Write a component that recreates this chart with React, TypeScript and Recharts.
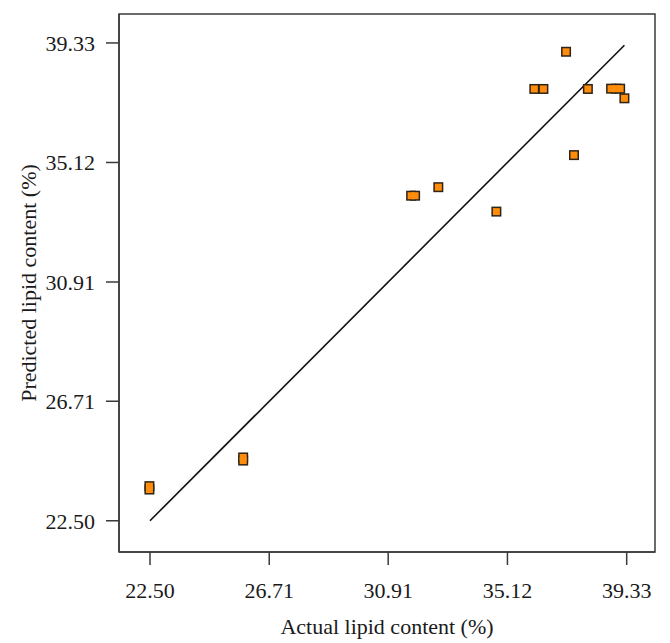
import { ReferenceArea, Scatter, ScatterChart, XAxis, YAxis } from "recharts";

const actual = [
  22.48, 22.48, 25.79, 25.79, 31.72, 31.86, 32.68, 34.73, 36.07, 36.39, 37.19, 37.47, 37.96,
  38.78, 38.95, 39.1, 39.25
];
const predicted = [
  23.72, 23.6, 24.73, 24.62, 33.95, 33.95, 34.25, 33.39, 37.71, 37.71, 39.02, 35.38, 37.71,
  37.72, 37.72, 37.72, 37.38
];
const fitX = [22.5, 39.25];
const ticks = [22.5, 26.71, 30.91, 35.12, 39.33];
const xDomain = [21.406, 40.33];
const yDomain = [21.4, 40.35];

const points = actual.map((x, i) => ({ x, y: predicted[i] }));
const fitLine = fitX.map((v) => ({ x: v, y: v }));

const font = "'Liberation Serif', 'DejaVu Serif', serif";
const axisColor = "#3a3a3a";

// outline pass first, fill pass second, so stacked points merge like the original
function SquareEdge(props: any) {
  const { cx, cy } = props;
  if (cx == null || cy == null) return null;
  return <rect x={cx - 5} y={cy - 5} width={10} height={10} fill="#2e2418" />;
}

function SquareFill(props: any) {
  const { cx, cy } = props;
  if (cx == null || cy == null) return null;
  return <rect x={cx - 3.5} y={cy - 3.5} width={7} height={7} fill="#ff8c0a" />;
}

export default function App() {
  return (
    <div style={{ position: "absolute", left: 0, top: 0, width: 670, height: 643, background: "#fff" }}>
      <ScatterChart width={670} height={643} margin={{ top: 14, right: 15, bottom: 0, left: 0 }}>
        <XAxis
          dataKey="x"
          type="number"
          domain={xDomain}
          ticks={ticks}
          tickFormatter={(v: number) => v.toFixed(2)}
          allowDataOverflow
          height={91}
          tickSize={13}
          tickMargin={17}
          stroke={axisColor}
          strokeWidth={1.5}
          tick={{ fontFamily: font, fontSize: 22, fill: "#1a1a1a" }}
          label={{
            value: "Actual lipid content (%)",
            position: "insideBottom",
            offset: 9,
            style: { fontFamily: font, fontSize: 22, fill: "#1a1a1a" }
          }}
        />
        <YAxis
          dataKey="y"
          type="number"
          domain={yDomain}
          ticks={ticks}
          tickFormatter={(v: number) => v.toFixed(2)}
          allowDataOverflow
          width={119}
          tickSize={13}
          tickMargin={11}
          stroke={axisColor}
          strokeWidth={1.5}
          tick={{ fontFamily: font, fontSize: 22, fill: "#1a1a1a" }}
          label={{
            value: "Predicted lipid content (%)",
            angle: -90,
            position: "insideLeft",
            offset: 28,
            style: { fontFamily: font, fontSize: 22, fill: "#1a1a1a", textAnchor: "middle" }
          }}
        />
        <ReferenceArea
          x1={xDomain[0]}
          x2={xDomain[1]}
          y1={yDomain[0]}
          y2={yDomain[1]}
          fill="none"
          fillOpacity={0}
          stroke={axisColor}
          strokeWidth={1.5}
        />
        <Scatter
          data={fitLine}
          line={{ stroke: "#111", strokeWidth: 1.6 }}
          shape={() => null}
          isAnimationActive={false}
        />
        <Scatter data={points} shape={SquareEdge} isAnimationActive={false} />
        <Scatter data={points} shape={SquareFill} isAnimationActive={false} />
      </ScatterChart>
    </div>
  );
}
